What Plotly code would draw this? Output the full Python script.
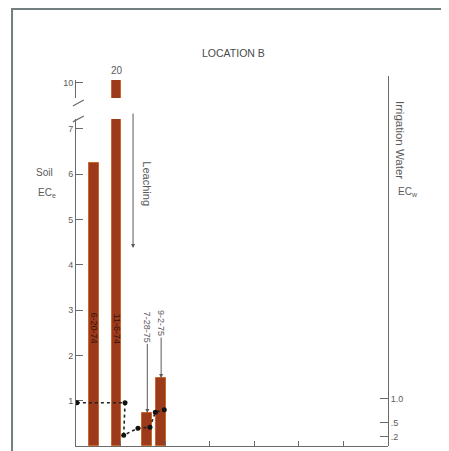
import plotly.graph_objects as go

# ---- data ----
bar_years = [1974.40, 1974.91, 1975.60, 1975.91]   # sample dates (plot position, years)
soil_ece = [6.25, 20, 0.73, 1.5]                    # soil ECe
bar_tags = ["6-20-74", "11-6-74", "7-28-75", "9-2-75"]

water_years = [1974.02, 1975.10, 1975.07, 1975.39, 1975.66, 1975.78, 1975.98]
water_ecw = [0.92, 0.92, 0.23, 0.38, 0.40, 0.72, 0.77]   # irrigation water ECw

year_ticks = [1975, 1976, 1977, 1978, 1979, 1980]
year_labels = ["1974", "1975"]
year_label_pos = [1974.38, 1975.39]

left_ticks = [1, 2, 3, 4, 5, 6, 7]
upper_ticks = [10]
right_ticks = [0.2, 0.5, 1.0]
right_ticktext = [".2", ".5", "1.0"]

BAR = "#9c3a1c"
GREY = "#5a5a5a"
AX = "#6a6a6a"
FONT = "Liberation Sans"

fig = go.Figure()

# lower (0-7) part of the broken axis
fig.add_trace(go.Bar(x=bar_years, y=soil_ece, width=0.22, xaxis="x", yaxis="y",
                     marker=dict(color=BAR, line=dict(color="#c8682e", width=1)),
                     showlegend=False, hoverinfo="skip"))
# upper (around 10) part of the broken axis
fig.add_trace(go.Bar(x=bar_years, y=soil_ece, width=0.22, xaxis="x", yaxis="y2",
                     marker=dict(color=BAR, line=dict(color="#c8682e", width=1)),
                     showlegend=False, hoverinfo="skip"))
# irrigation water ECw
fig.add_trace(go.Scatter(x=water_years, y=water_ecw, xaxis="x", yaxis="y3",
                         mode="lines+markers",
                         line=dict(color="#222222", width=1.6, dash="dot"),
                         marker=dict(color="#111111", size=5),
                         showlegend=False, hoverinfo="skip"))

tickfont = dict(family=FONT, size=9, color=GREY)

# the page body has an 8px margin, so the figure is 8px smaller than the window
fig.update_layout(
    width=441, height=443,
    margin=dict(l=68, r=61, t=68, b=5, autoexpand=False),
    paper_bgcolor="white", plot_bgcolor="rgba(0,0,0,0)",
    font=dict(family=FONT, color=GREY),
    bargap=0,
    xaxis=dict(range=[1974, 1981], domain=[0, 1], anchor="y",
               tickvals=year_ticks, ticks="inside", ticklen=5, tickcolor=AX,
               showticklabels=False, showline=True, linecolor=AX, linewidth=1,
               showgrid=False, zeroline=False),
    yaxis=dict(domain=[0, 0.8838], range=[0, 7.22], anchor="x",
               tickvals=left_ticks, ticks="inside", ticklen=7, tickcolor=AX,
               tickfont=tickfont, showline=True, linecolor=AX, linewidth=1,
               showgrid=False, zeroline=False),
    yaxis2=dict(domain=[0.9405, 0.9892], range=[9.669, 10.066], anchor="x",
                tickvals=upper_ticks, ticks="inside", ticklen=7, tickcolor=AX,
                tickfont=tickfont, showline=True, linecolor=AX, linewidth=1,
                showgrid=False, zeroline=False),
    yaxis3=dict(domain=[0, 1], range=[0, 7.87], anchor="x", side="right",
                tickvals=right_ticks, ticktext=right_ticktext,
                ticks="inside", ticklen=8, tickcolor=AX, tickfont=tickfont,
                showline=True, linecolor=AX, linewidth=1,
                showgrid=False, zeroline=False),
)

C = dict(xanchor="center", yanchor="middle")
ann = []
# title
ann.append(dict(text="LOCATION B", xref="paper", yref="paper", x=0.506, y=1.062,
                showarrow=False, font=dict(family=FONT, size=10.5, color="#4a4a4a"), **C))
# axis labels
ann.append(dict(text="Soil", xref="paper", yref="paper", x=-0.101, y=0.7405,
                showarrow=False, font=dict(size=10, color=GREY), **C))
ann.append(dict(text="EC<sub>e</sub>", xref="paper", yref="paper", x=-0.094, y=0.684,
                showarrow=False, font=dict(size=10, color=GREY), **C))
ann.append(dict(text="Irrigation Water", xref="paper", yref="paper", x=1.0385, y=0.827,
                textangle=90, showarrow=False, font=dict(size=11.5, color=GREY), **C))
ann.append(dict(text="EC<sub>w</sub>", xref="paper", yref="paper", x=1.063, y=0.686,
                showarrow=False, font=dict(size=10, color=GREY), **C))
# year labels (cut off at the bottom edge, as in the original)
for lab, pos in zip(year_labels, year_label_pos):
    ann.append(dict(text=lab, xref="x", yref="paper", x=pos, y=0, yanchor="top",
                    xanchor="center", yshift=-1, showarrow=False,
                    font=dict(size=9, color=GREY)))
# value of the broken bar
ann.append(dict(text=str(soil_ece[1]), xref="x", yref="y2", x=bar_years[1], y=10.066,
                yanchor="bottom", xanchor="center", yshift=2, showarrow=False,
                font=dict(size=10, color=GREY)))
# dates written inside the first two bars
for i in (0, 1):
    ann.append(dict(text=bar_tags[i], xref="x", yref="y", x=bar_years[i], y=2.6,
                    textangle=90, showarrow=False,
                    font=dict(size=9, color="#3b1208"), **C))
# dated arrows for the 1975 samples
ann.append(dict(text=bar_tags[2], xref="x", yref="y", x=bar_years[2], y=soil_ece[2],
                ax=0, ay=-86, textangle=90, showarrow=True, arrowhead=2,
                arrowsize=0.8, arrowwidth=1, arrowcolor=GREY,
                font=dict(size=9, color=GREY)))
ann.append(dict(text=bar_tags[3], xref="x", yref="y", x=bar_years[3], y=soil_ece[3],
                ax=0, ay=-55, textangle=90, showarrow=True, arrowhead=2,
                arrowsize=0.8, arrowwidth=1, arrowcolor=GREY,
                font=dict(size=9, color=GREY)))
# Leaching arrow and label
ann.append(dict(text=" ", xref="x", yref="y", x=1975.28, y=4.37, ax=0, ay=-143,
                showarrow=True, arrowhead=2, arrowsize=0.8, arrowwidth=1,
                arrowcolor=GREY))
ann.append(dict(text="Leaching", xref="x", yref="y", x=1975.59, y=5.78,
                textangle=90, showarrow=False, font=dict(size=11, color=GREY), **C))
fig.update_layout(annotations=ann)

shapes = []
# frame of the figure
shapes.append(dict(type="rect", xref="paper", yref="paper", x0=-0.205, y0=-0.2,
                   x1=1.3, y1=1.181, line=dict(color="#6f807e", width=2),
                   fillcolor="rgba(0,0,0,0)", layer="below"))
# break marks on the left axis
for yy in (0.927, 0.884):
    shapes.append(dict(type="line", xref="paper", yref="paper",
                       x0=-0.010, y0=yy - 0.008, x1=0.025, y1=yy + 0.008,
                       line=dict(color=AX, width=1.2)))
fig.update_layout(shapes=shapes)

fig.write_html("out.html")
